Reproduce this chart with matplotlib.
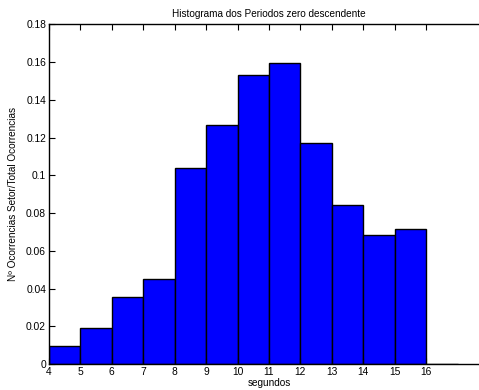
import numpy as np
import matplotlib
matplotlib.use('Agg')
import matplotlib.pyplot as plt

plt.rcParams['font.family'] = ['Liberation Sans', 'DejaVu Sans']

# histogram bins (left edges, 1 s wide) and relative frequencies
bin_edges = [4, 5, 6, 7, 8, 9, 10, 11, 12, 13, 14, 15, 16]
freqs = [0.0097, 0.0194, 0.0355, 0.0453, 0.1041, 0.1268, 0.1532,
         0.1593, 0.1170, 0.0845, 0.0683, 0.0715, 0.0]
y_ticks = [0, 0.02, 0.04, 0.06, 0.08, 0.1, 0.12, 0.14, 0.16, 0.18]
y_tick_labels = ['0', '0.02', '0.04', '0.06', '0.08', '0.1', '0.12',
                 '0.14', '0.16', '0.18']

fig = plt.figure(figsize=(4.79, 3.90), dpi=100)
ax = fig.add_axes([0.102, 0.066, 0.919, 0.872])

ax.bar(bin_edges, freqs, width=1.0, align='edge', color='#0000ff',
       edgecolor='black', linewidth=1.0)

ax.set_xlim(4, 18)
ax.set_ylim(0, 0.18)
ax.set_xticks(bin_edges)
ax.set_yticks(y_ticks)
ax.set_yticklabels(y_tick_labels)
ax.tick_params(direction='in', length=4, width=0.8, labelsize=7.4,
               top=True, right=True, pad=2, colors='black')

for s in ax.spines.values():
    s.set_linewidth(1.0)

ax.set_title('Histograma dos Periodos zero descendente', fontsize=7.2, pad=5)
ax.set_xlabel('segundos', fontsize=7.2, labelpad=1)
ax.set_ylabel('Nº Ocorrencias Setor/Total Ocorrencias', fontsize=7.2, labelpad=6)

fig.savefig('out.png', dpi=100)
